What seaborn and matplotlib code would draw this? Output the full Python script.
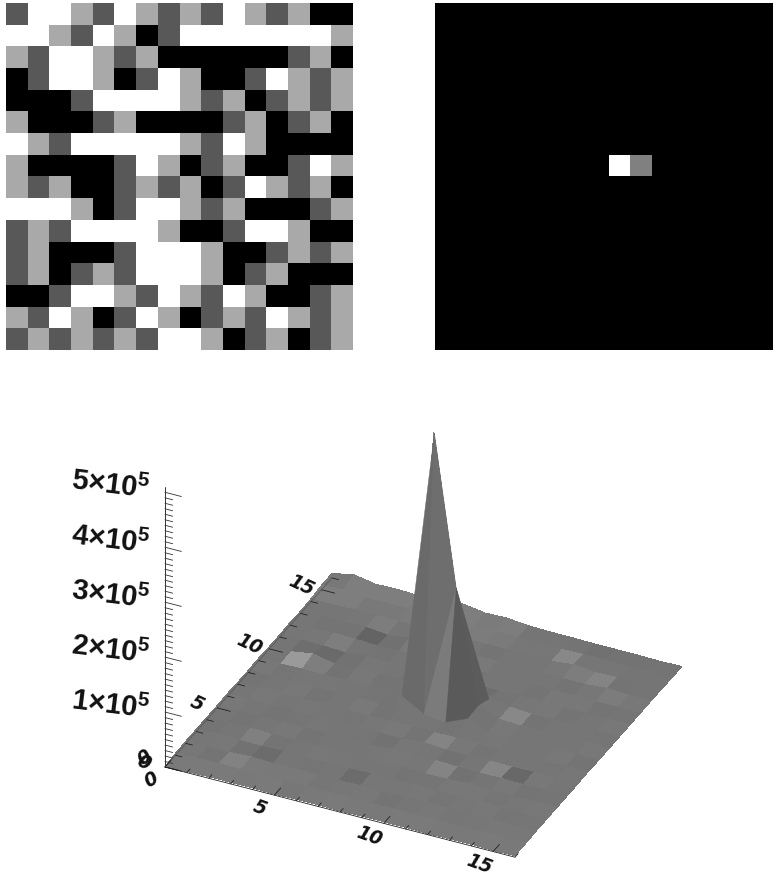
# Noise image, its transform image and the 3D surface of the transform
import numpy as np
import matplotlib
matplotlib.use("Agg")
import matplotlib.pyplot as plt
from matplotlib.colors import ListedColormap
from mpl_toolkits.mplot3d import proj3d
from mpl_toolkits.mplot3d.art3d import Poly3DCollection
import seaborn as sns

# === Data ===

# 0 black, 1 dark grey, 2 light grey, 3 white
noise_rows = [
    "1 3 3 2 1 3 2 1 2 1 3 2 1 2 0 0",
    "3 3 2 1 3 2 0 1 3 3 3 3 3 3 3 2",
    "2 1 3 3 2 1 2 0 0 0 0 0 0 1 2 0",
    "0 1 3 3 2 0 1 3 2 0 0 1 3 2 1 2",
    "0 0 0 1 3 3 3 3 2 1 2 0 1 2 1 2",
    "2 0 0 0 1 2 0 0 0 0 1 2 0 1 2 0",
    "3 2 1 3 3 3 3 3 2 1 3 2 0 0 0 0",
    "2 0 0 0 0 1 3 2 0 1 2 0 0 1 3 2",
    "2 1 2 0 0 1 2 1 2 0 1 3 2 1 2 0",
    "3 3 3 2 0 1 3 3 2 1 2 0 0 0 1 2",
    "1 2 1 3 3 3 3 2 0 0 1 3 3 2 0 0",
    "1 2 0 0 0 1 3 3 3 2 0 0 1 2 1 2",
    "1 2 0 1 2 1 3 3 3 2 0 1 2 0 0 0",
    "0 0 1 3 3 2 1 3 2 1 3 2 0 0 1 2",
    "2 1 3 2 0 1 3 2 0 1 2 1 3 2 1 2",
    "1 2 1 2 1 2 1 3 3 2 0 1 2 0 1 2",
]
noise = np.array([r.split() for r in noise_rows], dtype=int)

# transform image: everything black except two cells
spectrum = np.zeros((16, 16))
spectrum[7, 8] = 1.0
spectrum[7, 9] = 0.5

# surface heights in thousands, one row per y = 0..16, columns x = 0..16
surface_rows = [
    [0, 2, 3, 3, 3, 2, 3, 3, 2, 3, 3, 3, 2, 3, 3, 2, 3],
    [3, 4, 5, 4, 4, 3, 4, 4, 4, 4, 5, 4, 4, 4, 4, 4, 3],
    [4, 4, 4, 6, 4, 5, 4, 4, 5, 4, 4, 5, 4, 4, 5, 4, 4],
    [4, 5, 4, 4, 5, 4, 4, 4, 5, 4, 6, 4, 4, 6, 4, 4, 4],
    [4, 4, 5, 4, 4, 5, 4, 5, 4, 5, 4, 4, 7, 4, 4, 5, 4],
    [4, 4, 4, 5, 4, 4, 5, 4, 6, 4, 7, 5, 4, 5, 4, 4, 4],
    [5, 4, 4, 4, 4, 5, 4, 4, 4, 7, 4, 4, 5, 4, 5, 4, 4],
    [4, 5, 4, 4, 5, 4, 4, 5, 6, 4, 5, 4, 4, 5, 4, 4, 5],
    [4, 4, 5, 4, 4, 5, 5, 30, 7, 3, 20, 4, 5, 4, 5, 4, 4],
    [5, 4, 5, 4, 5, 4, 6, 14, 497, 225, 22, 6, 4, 5, 4, 5, 4],
    [4, 5, 11, 3, 5, 5, 4, 7, 16, 20, 12, 7, 4, 4, 5, 4, 4],
    [4, 5, 4, 2, 6, 4, 5, 4, 5, 5, 4, 5, 5, 4, 4, 5, 4],
    [5, 4, 6, 5, 3, 5, 4, 5, 4, 4, 5, 4, 5, 5, 4, 4, 4],
    [4, 5, 4, 5, 1, 6, 5, 4, 5, 5, 4, 5, 4, 4, 7, 5, 4],
    [5, 4, 5, 5, 5, 4, 5, 5, 4, 4, 5, 4, 8, 4, 5, 4, 4],
    [8, 10, 6, 6, 6, 7, 9, 7, 6, 5, 5, 4, 5, 5, 4, 4, 3],
    [8, 16, 9, 10, 8, 9, 14, 8, 9, 5, 4, 4, 3, 3, 3, 2, 3],
]
surface = np.array(surface_rows) / 10  # plotted in units of 10^4
grid_x = np.arange(17)
grid_y = np.arange(17)

# grey of the facets that stand out, (row, col) of the cell in the grid above
facet_grey = {
    (9, 1): 0x9a, (12, 3): 0x64, (10, 2): 0x6a, (14, 11): 0x88, (13, 13): 0x84,
    (9, 11): 0x88, (6, 9): 0x84, (4, 10): 0x84, (5, 12): 0x86, (2, 7): 0x6c,
    (2, 3): 0x6c, (1, 2): 0x82, (3, 2): 0x80, (5, 13): 0x68,
    # flat ground right next to the spike
    (7, 6): 0x74, (7, 7): 0x76, (8, 6): 0x74, (7, 8): 0x76, (7, 9): 0x74,
    (7, 10): 0x76, (8, 10): 0x74, (9, 10): 0x76, (9, 6): 0x74, (10, 10): 0x74,
}

# the spike is drawn as triangles over the surface, grid nodes as (x, y)
spike_facets = [
    ("#6a6a6a", [(7, 8), (8, 8), (8, 9)]),
    ("#6e6e6e", [(8, 8), (9, 9), (8, 9)]),
    ("#7b7b7b", [(8, 8), (9, 8), (9, 9)]),
    ("#5c5c5c", [(9, 9), (10, 10), (9, 10)]),
    ("#5c5c5c", [(9, 9), (10, 9), (10, 10)]),
    ("#5a5a5a", [(9, 8), (10, 8), (9, 9)]),
    ("#5a5a5a", [(10, 8), (10, 9), (9, 9)]),
]

z_major = [0, 10, 20, 30, 40, 50]
z_labels = ["1×10$^{\\mathregular{5}}$", "2×10$^{\\mathregular{5}}$",
            "3×10$^{\\mathregular{5}}$", "4×10$^{\\mathregular{5}}$",
            "5×10$^{\\mathregular{5}}$"]
xy_major = [0, 5, 10, 15]
xy_minor = list(range(17))
z_minor = list(range(0, 51))

# === Figure ===

W, H = 773, 881
sns.set_style("white")
fig = plt.figure(figsize=(W / 100, H / 100), dpi=100)
gray4 = ListedColormap(["#000000", "#585858", "#a9a9a9", "#ffffff"])

# top left: noise
ax1 = fig.add_axes([6 / W, 1 - 350 / H, 347 / W, 347 / H])
sns.heatmap(noise, ax=ax1, cmap=gray4, vmin=-0.5, vmax=3.5, cbar=False,
            xticklabels=False, yticklabels=False)

# top right: transform (runs off the right edge of the page)
ax2 = fig.add_axes([435 / W, 1 - 350 / H, 347 / W, 347 / H])
sns.heatmap(spectrum, ax=ax2, cmap="gray", vmin=0, vmax=1, cbar=False,
            xticklabels=False, yticklabels=False)

# bottom: surface, orthographic view
ax3 = fig.add_axes([0, 0, 1, 1], projection="3d", proj_type="ortho",
                   computed_zorder=False, facecolor="none")
ax3.set_axis_off()
ax3.view_init(elev=32.7, azim=-64.5)
ax3.set_xlim(0, 16, view_margin=0)
ax3.set_ylim(0, 16, view_margin=0)
ax3.set_zlim(0, 50, view_margin=0)
ax3.set_box_aspect((392, 392, 330), zoom=1)


def to_px(ax, x, y, z):
    px, py, _ = proj3d.proj_transform(x, y, z, ax.get_proj())
    return ax.transData.transform((px, py))


# scale and move the box so the corner of the floor lands where it should
ax3.apply_aspect()
a, b = to_px(ax3, 0, 0, 0), to_px(ax3, 16, 0, 0)
ax3.set_box_aspect((392, 392, 330), zoom=350 / (b[0] - a[0]))
ax3.apply_aspect()
a = to_px(ax3, 0, 0, 0)
ax3.set_position([(165 - a[0]) / W, (H - 767 - a[1]) / H, 1, 1])
ax3.apply_aspect()

# facet colours: slope of each cell gives a small change around the flat grey
heights = np.array(surface_rows, dtype=float)
slope_y = (heights[1:, :-1] + heights[1:, 1:] - heights[:-1, :-1] - heights[:-1, 1:]) / 2
slope_x = (heights[:-1, 1:] + heights[1:, 1:] - heights[:-1, :-1] - heights[1:, :-1]) / 2
grey = np.clip(118 + 2.5 * slope_y - 1.2 * slope_x, 110, 126)
for cell, value in facet_grey.items():
    grey[cell] = value
facets = np.dstack([grey / 255, grey / 255, grey / 255, np.ones_like(grey)])

X, Y = np.meshgrid(grid_x, grid_y)
ax3.plot_surface(X, Y, surface, rstride=1, cstride=1, facecolors=facets,
                 linewidth=0, antialiased=False, shade=False, zorder=1)

for i, (colour, nodes) in enumerate(spike_facets):
    tri = [(x, y, surface[y, x]) for x, y in nodes]
    ax3.add_collection3d(Poly3DCollection([tri], facecolors=colour, edgecolors=colour,
                                          linewidths=0.3, zorder=1.1 + i * 0.01))

# z axis with ticks pointing along x
tick_color = "#333333"
ax3.plot([0, 0], [0, 0], [0, 51], color=tick_color, lw=0.7, zorder=2)
for z in z_minor:
    size = 0.75 if z in z_major else 0.35
    ax3.plot([0, size], [0, 0], [z, z], color=tick_color, lw=0.6, zorder=2)

# floor ticks on the two front edges
ax3.plot([0, 16], [0, 0], [0, 0], color="#222222", lw=0.6, zorder=2)
ax3.plot([0, 0], [0, 16], [0, 0], color="#555555", lw=0.5, zorder=2)
for t in xy_minor:
    size = 0.6 if t in xy_major else 0.3
    ax3.plot([t, t], [0, size], [0, 0], color="#222222", lw=0.6, zorder=2)
    ax3.plot([0, size], [t, t], [0, 0], color="#222222", lw=0.6, zorder=2)


def label(x, y, z, s, **kw):
    px, py = to_px(ax3, x, y, z)
    fig.text(px / W, py / H, s, ha="center", va="center", zorder=5, **kw)


# labels
big = dict(family="Liberation Sans", weight="bold", fontsize=21, rotation=-7,
           color="#111111")
for z, s in zip(z_major[1:], z_labels):
    label(-2.03, -0.96, z + 1.3, s, **big)
tick_font = dict(family="DejaVu Sans", style="italic", weight="bold",
                 fontsize=13.5, color="#111111")
label(-0.95, -0.1, 0, "0", rotation=-25, **tick_font)
label(-1.05, 0.25, 0, "0", rotation=35, **tick_font)
label(-0.1, -1.15, 0, "0", rotation=30, **tick_font)
for t in xy_major[1:]:
    label(t - 0.1, -1.15, 0, str(t), rotation=-20, **tick_font)
    label(-0.87, t - 0.08, 0, str(t), rotation=-25, **tick_font)

fig.savefig("out.png", dpi=100)
